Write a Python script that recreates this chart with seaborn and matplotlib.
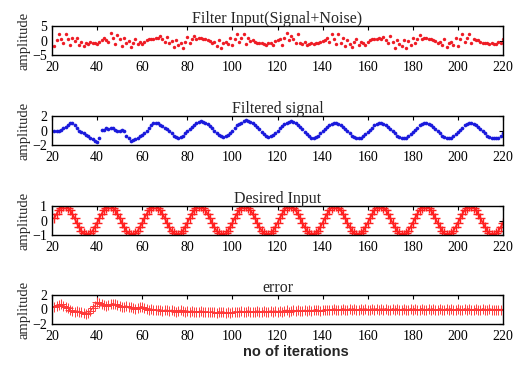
import matplotlib
matplotlib.use("Agg")
import matplotlib.pyplot as plt
import seaborn as sns
import pandas as pd

iterations = list(range(21, 221))

filter_input = [
    -1.8, 0.2, 2.4, 0.6, -1.0, 2.3, 0.4, -1.6, 0.9, -0.2, 0.7, -1.4, -0.5, -2.0, -0.9, -1.1, -0.6, -1.0, -0.8, -1.2,
    -0.4, 0.3, 0.9, 0.1, -0.6, 2.6, 0.8, -1.2, 1.9, 0.4, -2.0, 0.7, -1.0, -0.3, -2.4, -0.8, 0.6, -1.3, -0.5, -1.1,
    -0.4, 0.2, 0.5, 0.6, 0.4, 0.9, 0.7, 1.4, 0.5, -0.6, 1.2, -0.9, -0.2, -2.3, 0.3, -1.5, -0.9, -2.5, -0.4, 1.1,
    -1.0, 0.6, 1.6, 0.4, 0.9, 0.8, 0.6, 0.5, 0.2, -0.3, -0.8, -0.5, -1.8, 0.2, -2.6, -0.9, -0.4, -1.3, 0.8, -1.6,
    0.4, 2.1, -0.6, 0.7, 2.3, -1.2, 0.9, -0.2, 0.3, -0.5, -0.8, -1.0, -0.9, -1.1, -1.4, -0.7, -0.9, -1.6, -0.3, 0.2,
    0.6, -1.5, 0.9, 2.5, 0.1, 1.6, 0.4, -1.0, 2.3, -0.8, -1.1, -0.6, -1.4, -1.2, -0.9, -1.3, -1.0, -0.8, -0.5, -0.2,
    0.3, 0.8, -0.4, 2.4, 0.5, -1.3, 2.2, -0.7, 0.9, -2.0, 0.2, -1.1, -2.4, -0.5, 0.6, -1.7, -0.4, -0.9, -1.5, -0.6,
    0.1, 0.4, 0.6, 0.5, 0.8, 0.4, 1.3, 0.3, -1.0, 1.6, -0.6, -2.6, 0.1, -1.2, -1.8, 0.3, -2.7, -0.3, -1.5, 0.9,
    -0.7, 0.5, 1.8, 0.6, 1.0, 0.7, 0.5, 0.6, 0.3, -0.2, -0.9, -0.4, -1.6, 0.4, -2.2, -1.0, -0.6, -1.4, 0.7, -1.9,
    0.5, 2.1, -0.5, 0.8, 2.3, -1.0, 0.6, 0.1, 0.3, -0.4, -0.7, -0.9, -1.0, -1.2, -0.8, -1.1, -1.3, -0.5, -0.7, 0.4,
]

filtered_signal = [
    -0.1, 0.0, -0.1, 0.1, 0.3, 0.5, 0.8, 1.0, 1.0, 0.7, 0.3, 0.0, -0.2, -0.4, -0.6, -0.8, -1.0, -1.2, -1.4, -1.6,
    -1.1, 0.1, 0.1, 0.3, 0.2, 0.3, 0.4, 0.1, 0.0, -0.1, 0.1, 0.0, -0.8, -1.1, -1.4, -1.3, -1.2, -1.0, -0.8, -0.6,
    -0.3, 0.0, 0.4, 0.8, 1.0, 1.1, 1.0, 0.8, 0.6, 0.4, 0.2, -0.1, -0.4, -0.7, -0.9, -1.0, -0.9, -0.7, -0.4, -0.1,
    0.2, 0.5, 0.8, 1.0, 1.2, 1.3, 1.2, 1.1, 0.9, 0.6, 0.3, 0.0, -0.3, -0.6, -0.8, -0.9, -0.8, -0.6, -0.3, -0.1,
    0.4, 0.7, 0.9, 1.1, 1.3, 1.4, 1.3, 1.2, 1.0, 0.8, 0.5, 0.2, -0.2, -0.5, -0.7, -0.9, -0.8, -0.6, -0.3, 0.0,
    0.3, 0.6, 0.9, 1.1, 1.2, 1.3, 1.2, 1.0, 0.8, 0.5, 0.2, -0.2, -0.5, -0.8, -1.0, -1.0, -0.9, -0.7, -0.4, -0.1,
    0.2, 0.5, 0.7, 0.9, 1.0, 1.0, 0.9, 0.7, 0.5, 0.2, -0.1, -0.4, -0.7, -0.9, -1.1, -1.1, -1.0, -0.8, -0.5, -0.2,
    0.1, 0.4, 0.7, 0.9, 1.0, 1.0, 0.9, 0.7, 0.5, 0.2, -0.1, -0.4, -0.7, -0.9, -1.1, -1.1, -1.0, -0.8, -0.5, -0.2,
    0.1, 0.4, 0.7, 0.9, 1.0, 1.0, 0.9, 0.7, 0.5, 0.2, -0.1, -0.4, -0.7, -0.9, -1.1, -1.1, -1.0, -0.8, -0.5, -0.2,
    0.1, 0.4, 0.7, 0.9, 1.0, 1.0, 0.9, 0.7, 0.5, 0.2, -0.1, -0.4, -0.7, -0.9, -1.1, -1.1, -1.1, -1.0, -0.8, -0.4,
]

desired_input = [
    0.16, 0.45, 0.71, 0.89, 0.99, 0.99, 0.89, 0.71, 0.45, 0.16, -0.16, -0.45, -0.71, -0.89, -0.99, -0.99, -0.89, -0.71, -0.45, -0.16,
    0.16, 0.45, 0.71, 0.89, 0.99, 0.99, 0.89, 0.71, 0.45, 0.16, -0.16, -0.45, -0.71, -0.89, -0.99, -0.99, -0.89, -0.71, -0.45, -0.16,
    0.16, 0.45, 0.71, 0.89, 0.99, 0.99, 0.89, 0.71, 0.45, 0.16, -0.16, -0.45, -0.71, -0.89, -0.99, -0.99, -0.89, -0.71, -0.45, -0.16,
    0.16, 0.45, 0.71, 0.89, 0.99, 0.99, 0.89, 0.71, 0.45, 0.16, -0.16, -0.45, -0.71, -0.89, -0.99, -0.99, -0.89, -0.71, -0.45, -0.16,
    0.16, 0.45, 0.71, 0.89, 0.99, 0.99, 0.89, 0.71, 0.45, 0.16, -0.16, -0.45, -0.71, -0.89, -0.99, -0.99, -0.89, -0.71, -0.45, -0.16,
    0.16, 0.45, 0.71, 0.89, 0.99, 0.99, 0.89, 0.71, 0.45, 0.16, -0.16, -0.45, -0.71, -0.89, -0.99, -0.99, -0.89, -0.71, -0.45, -0.16,
    0.16, 0.45, 0.71, 0.89, 0.99, 0.99, 0.89, 0.71, 0.45, 0.16, -0.16, -0.45, -0.71, -0.89, -0.99, -0.99, -0.89, -0.71, -0.45, -0.16,
    0.16, 0.45, 0.71, 0.89, 0.99, 0.99, 0.89, 0.71, 0.45, 0.16, -0.16, -0.45, -0.71, -0.89, -0.99, -0.99, -0.89, -0.71, -0.45, -0.16,
    0.16, 0.45, 0.71, 0.89, 0.99, 0.99, 0.89, 0.71, 0.45, 0.16, -0.16, -0.45, -0.71, -0.89, -0.99, -0.99, -0.89, -0.71, -0.45, -0.16,
    0.16, 0.45, 0.71, 0.89, 0.99, 0.99, 0.89, 0.71, 0.45, 0.16, -0.16, -0.45, -0.71, -0.89, -0.99, -0.99, -0.89, -0.71, -0.45, -0.16,
]

error = [
    0.3, 0.5, 0.6, 0.7, 0.5, 0.4, 0.2, -0.1, -0.2, -0.3, -0.2, -0.3, -0.4, -0.5, -0.6, -0.5, -0.2, 0.2, 0.5, 1.0,
    0.9, 0.8, 0.6, 0.5, 0.6, 0.7, 0.8, 0.7, 0.6, 0.5, 0.4, 0.4, 0.5, 0.3, 0.4, 0.2, 0.1, 0.2, 0.3, 0.4,
    0.2, 0.1, 0.0, 0.1, -0.1, 0.0, -0.1, 0.0, -0.2, -0.1, -0.1, -0.2, -0.1, -0.2, -0.3, -0.2, -0.1, -0.2, -0.3, -0.2,
    -0.3, -0.2, -0.3, -0.4, -0.3, -0.2, -0.3, -0.4, -0.3, -0.4, -0.3, -0.4, -0.5, -0.3, -0.4, -0.3, -0.5, -0.4, -0.5, -0.4,
    -0.3, -0.4, -0.3, -0.2, -0.4, -0.3, -0.2, -0.3, -0.4, -0.3, -0.2, -0.3, -0.3, -0.2, -0.4, -0.3, -0.2, -0.3, -0.2, -0.3,
    -0.2, -0.3, -0.2, -0.1, -0.3, -0.2, -0.1, -0.2, -0.1, -0.2, -0.2, -0.1, -0.2, -0.1, -0.2, -0.1, 0.0, -0.1, -0.2, -0.1,
    0.0, -0.1, 0.0, -0.1, 0.1, 0.0, -0.1, 0.0, 0.1, 0.0, -0.1, 0.1, 0.0, 0.1, -0.1, 0.0, 0.1, 0.0, 0.1, 0.0,
    -0.1, 0.1, 0.0, 0.1, -0.1, 0.1, 0.0, 0.1, 0.0, -0.1, 0.1, 0.0, 0.1, -0.1, 0.0, 0.1, 0.0, -0.1, 0.1, 0.0,
    0.1, -0.1, 0.0, 0.1, 0.0, -0.1, 0.1, 0.0, 0.1, -0.1, 0.0, 0.1, 0.0, -0.1, 0.1, 0.0, 0.1, -0.1, 0.0, 0.1,
    0.0, -0.1, 0.1, 0.0, 0.1, -0.1, 0.0, 0.1, 0.0, -0.1, 0.1, 0.0, -0.1, 0.1, 0.0, 0.0, 0.0, 0.0, 0.0, 0.0,
]

titles = ["Filter Input(Signal+Noise)", "Filtered signal", "Desired Input", "error"]
y_limits = [(-5, 5), (-2, 2), (-1, 1), (-2, 2)]
y_ticks = [[-5, 0, 5], [-2, 0, 2], [-1, 0, 1], [-2, 0, 2]]
x_ticks = [20, 40, 60, 80, 100, 120, 140, 160, 180, 200, 220]
x_label = "no of iterations"
y_label = "amplitude"

df = pd.DataFrame({
    "iteration": iterations,
    "filter_input": filter_input,
    "filtered_signal": filtered_signal,
    "desired_input": desired_input,
    "error": error,
})

sns.set_style("white")
plt.rcParams["font.family"] = ["Liberation Serif", "DejaVu Serif"]

W, H = 518, 378
fig = plt.figure(figsize=(W / 100, H / 100), dpi=100)

boxes = [(26, 55), (116, 145), (206, 235), (295, 324)]
left_px, right_px = 52, 503
axes = []
for top, bot in boxes:
    ax = fig.add_axes([left_px / W, 1 - bot / H, (right_px - left_px) / W, (bot - top) / H])
    axes.append(ax)

sns.scatterplot(data=df, x="iteration", y="filter_input", ax=axes[0], color="#ee1c25",
                marker="o", s=6, linewidth=0, legend=False)
sns.scatterplot(data=df, x="iteration", y="filtered_signal", ax=axes[1], color="#1a1adc",
                marker="o", s=7, linewidth=0, legend=False)
sns.lineplot(data=df, x="iteration", y="desired_input", ax=axes[2], color="#ff2020",
             linewidth=1.3, marker="+", markersize=6.5, markeredgecolor="#ff2020",
             markeredgewidth=1.0, legend=False)
sns.lineplot(data=df, x="iteration", y="error", ax=axes[3], color="#ff2a2a",
             linewidth=0.9, marker="+", markersize=6.5, markeredgecolor="#ff3a3a",
             markeredgewidth=0.7, legend=False)

for ax, title, ylim, yt in zip(axes, titles, y_limits, y_ticks):
    ax.set_xlim(20, 220)
    ax.set_ylim(*ylim)
    ax.set_xticks(x_ticks)
    ax.set_yticks(yt)
    ax.set_xlabel("")
    ax.set_ylabel(y_label, fontsize=10.5, labelpad=1)
    ax.set_title(title, fontsize=11.5, pad=2)
    ax.tick_params(direction="in", top=True, right=True, length=3, width=0.8,
                   labelsize=10, color="black", labelcolor="black")
    ax.tick_params(axis="x", pad=4.5)
    ax.tick_params(axis="y", pad=3.5)
    for s in ax.spines.values():
        s.set_color("black")
        s.set_linewidth(1.0)
        s.set_visible(True)
    ax.set_facecolor("white")

fig.text(296 / W, 1 - 352 / H, x_label, ha="center", va="center",
         fontsize=10.5, fontweight="bold", family=["Liberation Sans", "DejaVu Sans"])

fig.savefig("out.png", dpi=100, facecolor="white")
